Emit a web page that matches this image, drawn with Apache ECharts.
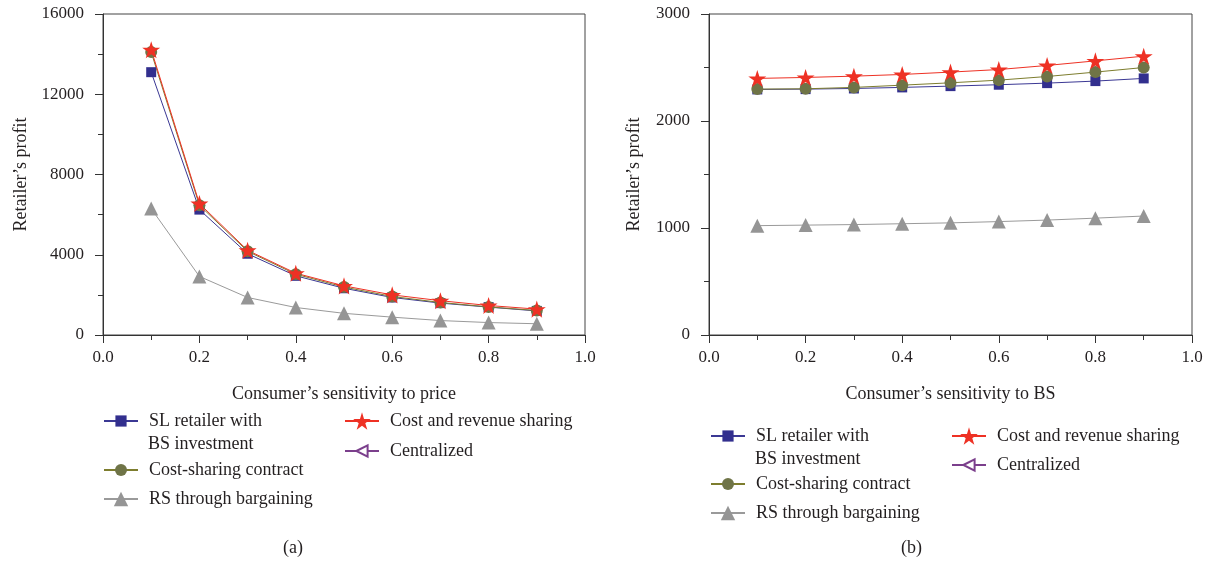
<!DOCTYPE html>
<html>
<head>
<meta charset="utf-8">
<script src="https://cdn.jsdelivr.net/npm/echarts@6/dist/echarts.min.js"></script>
<style>
html,body{margin:0;padding:0;background:#fff;}
#chart{width:1210px;height:569px;}
</style>
</head>
<body>
<div id="chart"></div>
<script>
// ---- data ----
const xValues = [0.1, 0.2, 0.3, 0.4, 0.5, 0.6, 0.7, 0.8, 0.9];
const seriesNames = ['SL retailer with\nBS investment', 'Cost-sharing contract', 'RS through bargaining', 'Cost and revenue sharing', 'Centralized'];
// panel (a): retailer's profit vs consumer's sensitivity to price
const aSL = [13100, 6250, 4050, 2950, 2330, 1870, 1590, 1390, 1200];
const aCS = [14100, 6470, 4170, 3030, 2390, 1920, 1620, 1400, 1220];
const aRS = [6300, 2920, 1870, 1370, 1080, 890, 720, 620, 560];
const aCRS = [14220, 6550, 4220, 3080, 2450, 2000, 1710, 1470, 1290];
const aCen = [];
// panel (b): retailer's profit vs consumer's sensitivity to BS
const bSL = [2295, 2298, 2304, 2314, 2326, 2339, 2354, 2373, 2398];
const bCS = [2298, 2301, 2314, 2335, 2357, 2382, 2416, 2457, 2500];
const bRS = [1022, 1027, 1032, 1040, 1048, 1060, 1074, 1092, 1112];
const bCRS = [2398, 2407, 2419, 2435, 2457, 2481, 2519, 2562, 2606];
const bCen = [];
const panelLabels = ['(a)', '(b)'];
const xNames = ['Consumer\u2019s sensitivity to price', 'Consumer\u2019s sensitivity to BS'];
const yName = 'Retailer\u2019s profit';

// ---- styles ----
const FONT = '"Liberation Serif", "DejaVu Serif", serif';
const TXT = '#231f20';
const starPath = 'path://M50,0 L61,35 L98,35 L68,57 L79,91 L50,70 L21,91 L32,57 L2,35 L39,35 Z';
const leftTri = 'path://M0,50 L100,0 L100,100 Z';
const styles = [
  {symbol: 'rect', symbolSize: 10, line: '#3b3894', fill: '#322f8e', legendH: 14},
  {symbol: 'circle', symbolSize: 12, line: '#7d7d2e', fill: '#6f7447', legendH: 15},
  {symbol: 'triangle', symbolSize: 14, line: '#9a9a9a', fill: '#959595', legendH: 18},
  {symbol: starPath, symbolSize: 18, line: '#ee3124', fill: '#ee3124', legendH: 22},
  {symbol: leftTri, symbolSize: 9, line: '#7b3f8c', fill: '#ffffff', border: '#7b3f8c', legendH: 14}
];

function pairs(arr){ return arr.map((v,i)=>[xValues[i], v]); }

const panels = [
  {data: [aSL, aCS, aRS, aCRS, aCen], max: 16000, interval: 4000},
  {data: [bSL, bCS, bRS, bCRS, bCen], max: 3000, interval: 1000}
];
const grids = [
  {left: 103, top: 14, width: 482, height: 321, show: true, borderColor: '#444', borderWidth: 1},
  {left: 709, top: 14, width: 483, height: 321, show: true, borderColor: '#444', borderWidth: 1}
];
const yNameGaps = [73, 66];

const xAxes = [], yAxes = [], series = [];
panels.forEach((p, gi) => {
  xAxes.push({
    type: 'value', gridIndex: gi, min: 0, max: 1, interval: 0.2,
    name: xNames[gi], nameLocation: 'middle', nameGap: 50,
    nameTextStyle: {fontFamily: FONT, fontSize: 18, color: TXT},
    axisLine: {show: true, onZero: false, lineStyle: {color: '#333', width: 1}},
    axisTick: {show: true, length: 8, lineStyle: {color: '#333'}},
    minorTick: {show: true, splitNumber: 2, length: 5, lineStyle: {color: '#333'}},
    splitLine: {show: false},
    axisLabel: {fontFamily: FONT, fontSize: 17, color: TXT, margin: 14, formatter: v => v.toFixed(1)}
  });
  yAxes.push({
    type: 'value', gridIndex: gi, min: 0, max: p.max, interval: p.interval,
    name: yName, nameLocation: 'middle', nameGap: yNameGaps[gi],
    nameTextStyle: {fontFamily: FONT, fontSize: 18, color: TXT},
    axisLine: {show: true, onZero: false, lineStyle: {color: '#333', width: 1}},
    axisTick: {show: true, length: 8, lineStyle: {color: '#333'}},
    minorTick: {show: true, splitNumber: 2, length: 5, lineStyle: {color: '#333'}},
    splitLine: {show: false},
    axisLabel: {fontFamily: FONT, fontSize: 17, color: TXT, margin: 19, formatter: v => String(v)}
  });
  // draw order: RS, SL, CS, CRS, Centralized
  [2, 0, 1, 3, 4].forEach(si => {
    const s = styles[si];
    series.push({
      type: 'line', name: seriesNames[si], xAxisIndex: gi, yAxisIndex: gi,
      data: pairs(p.data[si]), symbol: s.symbol, symbolSize: s.symbolSize,
      symbolKeepAspect: true, showAllSymbol: true, animation: false,
      lineStyle: {color: s.line, width: 1},
      itemStyle: s.border ? {color: s.fill, borderColor: s.border, borderWidth: 1.5} : {color: s.fill, borderWidth: 0},
      emphasis: {disabled: true}
    });
  });
});

// legends
const legendPos = [
  // panel a
  {name: 0, left: 103, top: 410},
  {name: 1, left: 103, top: 459},
  {name: 2, left: 103, top: 488},
  {name: 3, left: 344, top: 410},
  {name: 4, left: 344, top: 440},
  // panel b
  {name: 0, left: 710, top: 425},
  {name: 1, left: 710, top: 473},
  {name: 2, left: 710, top: 502},
  {name: 3, left: 951, top: 425},
  {name: 4, left: 951, top: 454}
];
const legends = legendPos.map(l => ({
  data: [seriesNames[l.name]], left: l.left, top: l.top, padding: 0,
  orient: 'vertical', selectedMode: false, itemWidth: 34, itemHeight: styles[l.name].legendH,
  formatter: n => n.split('\n')[0],
  textStyle: {fontFamily: FONT, fontSize: 18, color: TXT, lineHeight: 22, padding: [0, 0, 0, 6]}
}));

const chart = echarts.init(document.getElementById('chart'), null, {renderer: 'canvas'});
chart.setOption({
  backgroundColor: '#fff',
  animation: false,
  grid: grids,
  xAxis: xAxes,
  yAxis: yAxes,
  legend: legends,
  series: series,
  graphic: [
    {type: 'text', left: 148, top: 435, style: {text: seriesNames[0].split('\n')[1], font: '18px ' + FONT, fill: TXT}},
    {type: 'text', left: 755, top: 450, style: {text: seriesNames[0].split('\n')[1], font: '18px ' + FONT, fill: TXT}},
    {type: 'text', left: 283, top: 539, style: {text: panelLabels[0], font: '18px ' + FONT, fill: TXT}},
    {type: 'text', left: 901, top: 539, style: {text: panelLabels[1], font: '18px ' + FONT, fill: TXT}}
  ]
});
</script>
</body>
</html>
